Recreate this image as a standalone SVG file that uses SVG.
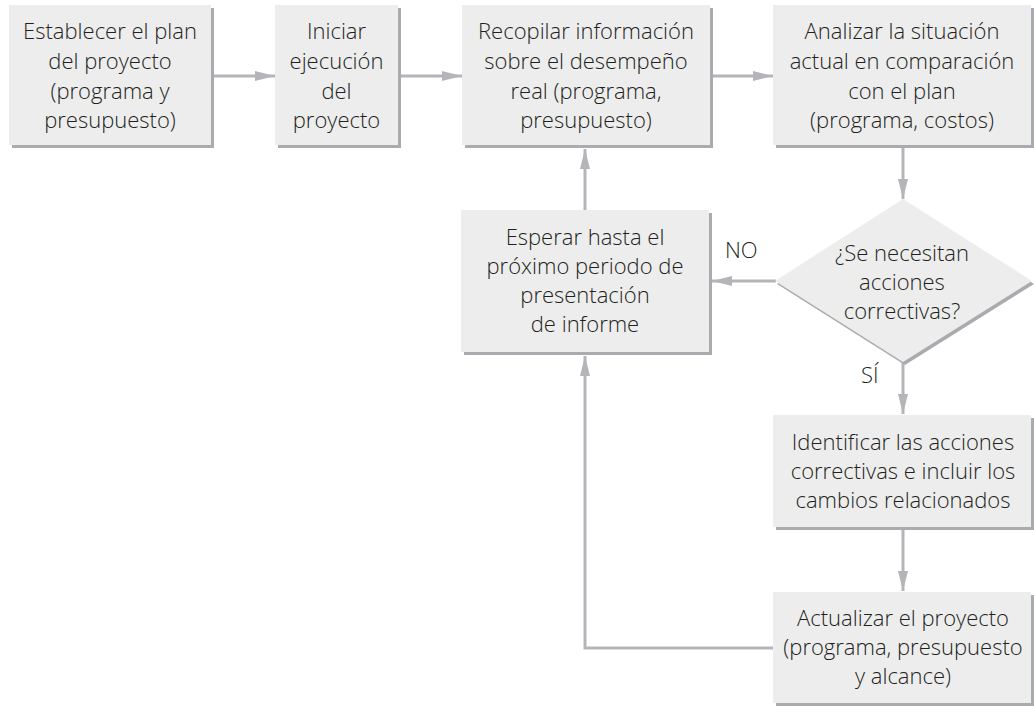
<svg xmlns="http://www.w3.org/2000/svg" width="1034" height="707" viewBox="0 0 1034 707">
<style>
.box{fill:#ededed}
.sh{fill:#a9abae}
.t{font-family:"Open Sans","Noto Sans","Liberation Sans",sans-serif;font-size:22px;font-weight:350;fill:#231f20;text-anchor:middle}
.lbl{font-family:"Open Sans","Noto Sans","Liberation Sans",sans-serif;font-size:22px;font-weight:350;fill:#231f20}
.c{fill:none;stroke:#b4b5b8;stroke-width:3}
</style>
<defs>
<marker id="ah" markerUnits="userSpaceOnUse" markerWidth="20" markerHeight="10" refX="20" refY="5" orient="auto">
<path d="M0,0 L20,5 L0,10 z" fill="#b4b5b8"/>
</marker>
</defs>
<rect width="1034" height="707" fill="#ffffff"/>
<g id="connectors">
<line class="c" x1="211" y1="76" x2="275" y2="76" marker-end="url(#ah)"/>
<line class="c" x1="398" y1="76" x2="462" y2="76" marker-end="url(#ah)"/>
<line class="c" x1="712" y1="76" x2="773" y2="76" marker-end="url(#ah)"/>
<line class="c" x1="903" y1="147" x2="903" y2="199" marker-end="url(#ah)"/>
<line class="c" x1="776" y1="281" x2="712" y2="281" marker-end="url(#ah)"/>
<line class="c" x1="585" y1="210" x2="585" y2="149" marker-end="url(#ah)"/>
<line class="c" x1="903" y1="362" x2="903" y2="414" marker-end="url(#ah)"/>
<line class="c" x1="903" y1="529" x2="903" y2="591" marker-end="url(#ah)"/>
<polyline class="c" points="773,648 585,648 585,356" marker-end="url(#ah)"/>
<text class="lbl" x="725" y="258">NO</text>
<text class="lbl" x="861" y="383">SÍ</text>
</g>
<g id="n1">
<rect class="sh" x="12" y="8" width="202" height="140"/>
<rect class="box" x="9" y="5" width="202" height="140"/>
<text class="t" x="110" y="39">Establecer el plan</text>
<text class="t" x="110" y="69">del proyecto</text>
<text class="t" x="110" y="99">(programa y</text>
<text class="t" x="110" y="128">presupuesto)</text>
</g>
<g id="n2">
<rect class="sh" x="278" y="8" width="123" height="140"/>
<rect class="box" x="275" y="5" width="123" height="140"/>
<text class="t" x="336.5" y="39">Iniciar</text>
<text class="t" x="336.5" y="69">ejecución</text>
<text class="t" x="336.5" y="99">del</text>
<text class="t" x="336.5" y="128">proyecto</text>
</g>
<g id="n3">
<rect class="sh" x="465" y="8" width="248" height="140"/>
<rect class="box" x="462" y="5" width="248" height="140"/>
<text class="t" x="586" y="39">Recopilar información</text>
<text class="t" x="586" y="69">sobre el desempeño</text>
<text class="t" x="586" y="99">real (programa,</text>
<text class="t" x="586" y="128">presupuesto)</text>
</g>
<g id="n4">
<rect class="sh" x="776" y="8" width="258" height="140"/>
<rect class="box" x="773" y="5" width="258" height="140"/>
<text class="t" x="902" y="39">Analizar la situación</text>
<text class="t" x="902" y="69">actual en comparación</text>
<text class="t" x="902" y="99">con el plan</text>
<text class="t" x="902" y="128">(programa, costos)</text>
</g>
<g id="decision">
<polygon class="sh" points="905,202 1034,284 905,365 777,284"/>
<polygon class="box" points="903,199 1032,281 903,362 775,281"/>
<text class="t" x="902" y="261">¿Se necesitan</text>
<text class="t" x="902" y="290">acciones</text>
<text class="t" x="902" y="319">correctivas?</text>
</g>
<g id="wait">
<rect class="sh" x="464" y="213" width="248" height="142"/>
<rect class="box" x="461" y="210" width="248" height="142"/>
<text class="t" x="585" y="245">Esperar hasta el</text>
<text class="t" x="585" y="274">próximo periodo de</text>
<text class="t" x="585" y="303">presentación</text>
<text class="t" x="585" y="332">de informe</text>
</g>
<g id="identify">
<rect class="sh" x="776" y="418" width="258" height="112"/>
<rect class="box" x="773" y="415" width="258" height="112"/>
<text class="t" x="903" y="450">Identificar las acciones</text>
<text class="t" x="903" y="479">correctivas e incluir los</text>
<text class="t" x="903" y="508">cambios relacionados</text>
</g>
<g id="update">
<rect class="sh" x="776" y="595" width="258" height="111"/>
<rect class="box" x="773" y="592" width="258" height="111"/>
<text class="t" x="903" y="626">Actualizar el proyecto</text>
<text class="t" x="903" y="655">(programa, presupuesto</text>
<text class="t" x="903" y="684">y alcance)</text>
</g>
</svg>
